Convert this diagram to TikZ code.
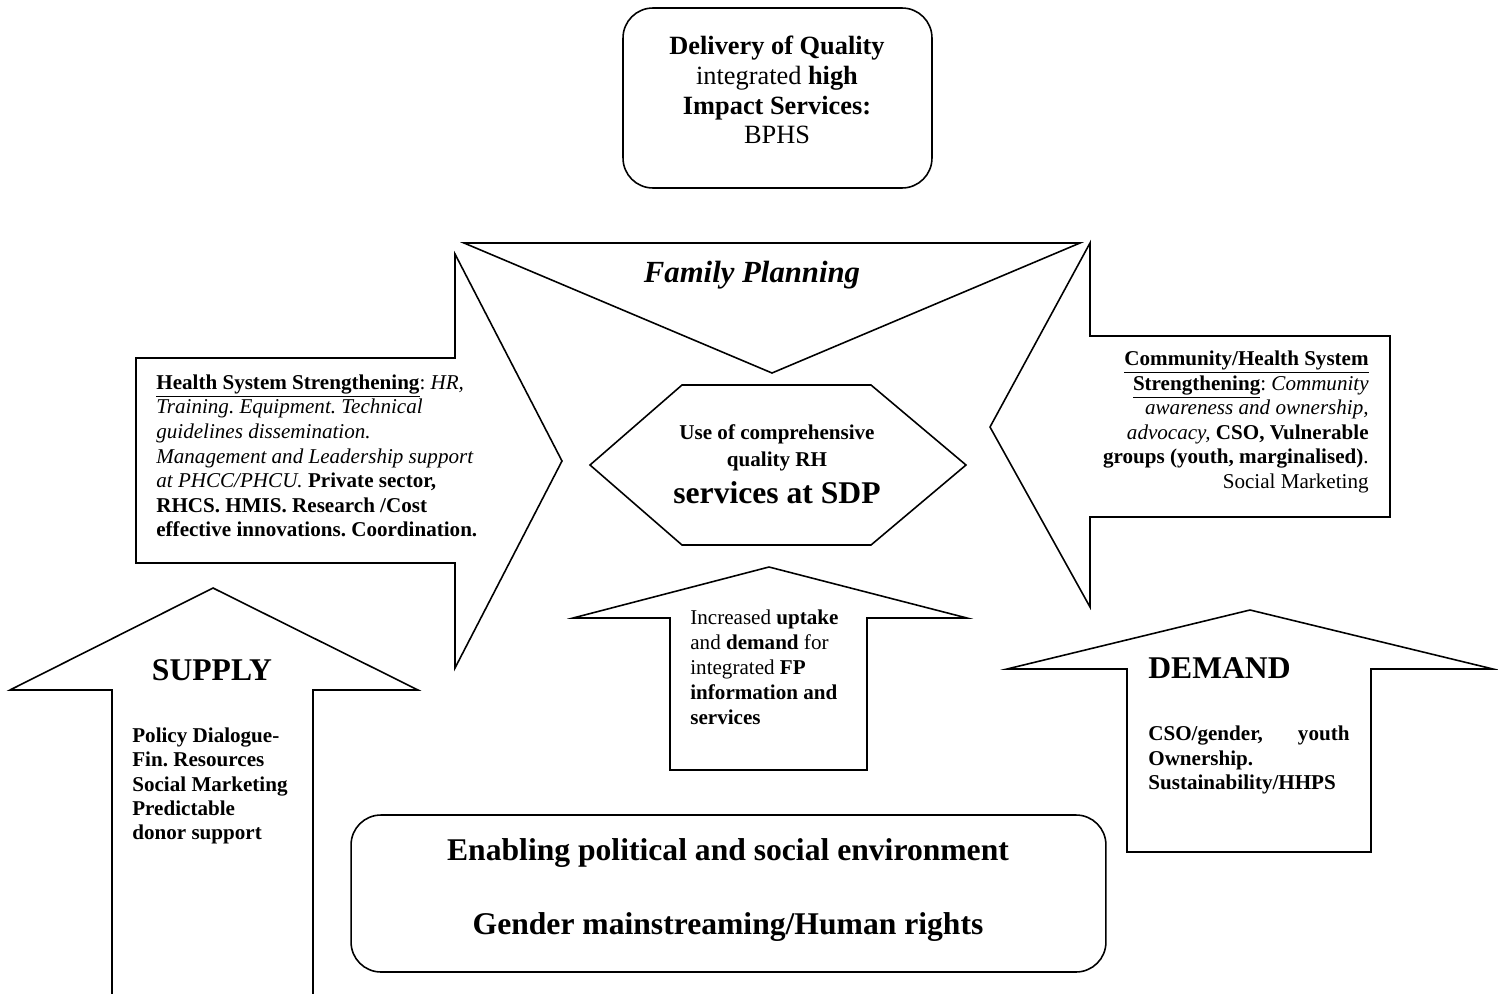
\documentclass[tikz,border=0pt]{standalone}
\usepackage{fontspec}
\setmainfont{Liberation Serif}
\frenchspacing
\begin{document}
\begin{tikzpicture}[x=0.02cm,y=-0.02cm,
  outline/.style={draw=black,line width=0.9pt,line join=miter},
  lbl/.style={inner sep=0pt,text=black},
  body/.style={lbl,font=\fontsize{12}{14}\selectfont},
  rbox/.style={outline,rounded corners=17pt,inner sep=0pt}
]
\useasboundingbox (0,0) rectangle (1498,994);

% top box
\node[rbox,minimum width=6.18cm,minimum height=3.6cm] (topbox) at (777.5,98) {};
\node[lbl,align=center,font=\fontsize{15}{17}\selectfont] (toptext) at (777,90)
  {\textbf{Delivery of Quality}\\ integrated \textbf{high}\\ \textbf{Impact Services:}\\ BPHS};

% family planning triangle
\draw[outline] (464,243) -- (1080,243) -- (772,373) -- cycle;
\node[lbl,font=\fontsize{17.5}{20}\selectfont\bfseries\itshape] (fp) at (752,275) {Family Planning};

% left arrow (health system strengthening)
\draw[outline] (136,358) -- (455,358) -- (455,254) -- (562,461) -- (455,668) -- (455,563) -- (136,563) -- cycle;
\node[body,align=left,anchor=west] (hss) at (156,456)
  {\underline{\textbf{Health System Strengthening}}: \textit{HR,}\\
   \textit{Training. Equipment. Technical}\\
   \textit{guidelines dissemination.}\\
   \textit{Management and Leadership support}\\
   \textit{at PHCC/PHCU.} \textbf{Private sector,}\\
   \textbf{RHCS. HMIS. Research /Cost}\\
   \textbf{effective innovations. Coordination.}};

% right arrow (community)
\draw[outline] (1390,336) -- (1090,336) -- (1090,243) -- (990,427) -- (1090,607) -- (1090,517) -- (1390,517) -- cycle;
\node[body,align=right,anchor=east] (chss) at (1369,422)
  {\underline{\textbf{Community/Health System}}\\
   \underline{\textbf{Strengthening}}: \textit{Community}\\
   \textit{awareness and ownership,}\\
   \textit{advocacy,} \textbf{CSO, Vulnerable}\\
   \textbf{groups (youth, marginalised)}.\\
   Social Marketing};

% hexagon
\draw[outline] (682,385) -- (871,385) -- (966,465) -- (871,545) -- (682,545) -- (590,465) -- cycle;
\node[lbl,align=center,font=\fontsize{12}{15}\selectfont\bfseries] (use) at (777,448)
  {Use of comprehensive\\ quality RH};
\node[lbl,font=\fontsize{18}{20}\selectfont\bfseries] (sdp) at (777,493) {services at SDP};

% middle up arrow
\draw[outline] (670,770) -- (670,618) -- (573,618) -- (769,567) -- (967,618) -- (867,618) -- (867,770) -- cycle;
\node[lbl,align=left,anchor=west,font=\fontsize{12}{14.2}\selectfont] (uptake) at (690,667)
  {Increased \textbf{uptake}\\
   and \textbf{demand} for\\
   integrated \textbf{FP}\\
   \textbf{information and}\\
   \textbf{services}};

% supply arrow
\draw[outline] (112,994) -- (112,690) -- (10,690) -- (213,588) -- (418,690) -- (313,690) -- (313,994);
\node[lbl,font=\fontsize{18}{20}\selectfont\bfseries] (supply) at (212,670) {SUPPLY};
\node[lbl,align=left,anchor=west,font=\fontsize{12}{13.9}\selectfont\bfseries] (supplytext) at (132,786)
  {Policy Dialogue-\\ Fin. Resources\\ Social Marketing\\ Predictable\\ donor support};

% demand arrow
\draw[outline] (1127,852) -- (1127,669) -- (1007,669) -- (1250,610) -- (1493,669) -- (1371,669) -- (1371,852) -- cycle;
\node[lbl,anchor=west,font=\fontsize{18}{20}\selectfont\bfseries] (demand) at (1148,668) {DEMAND};
\node[lbl,align=left,anchor=west,text width=114.5pt,font=\fontsize{12}{14}\selectfont\bfseries] (demandtext) at (1148,760)
  {CSO/gender,\hfill youth\\ Ownership.\\ Sustainability/HHPS};

% bottom box
\node[rbox,minimum width=15.1cm,minimum height=3.14cm] (envbox) at (728.5,893.5) {};
\node[lbl,font=\fontsize{18}{20}\selectfont\bfseries] (env1) at (728,853) {Enabling political and social environment};
\node[lbl,font=\fontsize{18}{20}\selectfont\bfseries] (env2) at (728,927) {Gender mainstreaming/Human rights};
\end{tikzpicture}
\end{document}
